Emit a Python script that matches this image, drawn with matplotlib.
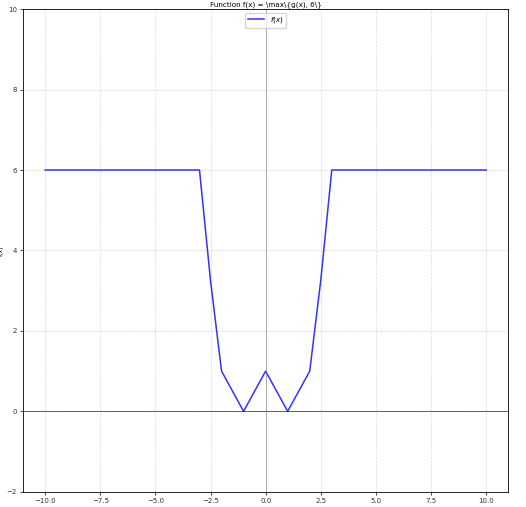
import matplotlib
matplotlib.use('Agg')
import matplotlib.pyplot as plt

# sample points
x_vals = [-10, -9, -8, -7, -6, -5, -4, -3, -2.5, -2, -1, 0, 1, 2, 2.5, 3, 4, 5, 6, 7, 8, 9, 10]
y_vals = [6, 6, 6, 6, 6, 6, 6, 6, 3.25, 1, 0, 1, 0, 1, 3.25, 6, 6, 6, 6, 6, 6, 6, 6]
y_ticks = [-2, 0, 2, 4, 6, 8, 10]
x_ticks = [-10.0, -7.5, -5.0, -2.5, 0.0, 2.5, 5.0, 7.5, 10.0]

fig = plt.figure(figsize=(5.26, 5.07), dpi=100)
ax = fig.add_axes([0.044, 0.03, 0.922, 0.952])

ax.plot(x_vals, y_vals, color='blue', lw=1.1, alpha=0.8, label='$f(x)$')
ax.axhline(0, color='black', lw=0.7, alpha=0.6)
ax.axvline(0, color='gray', lw=0.7, alpha=0.6)

ax.set_ylim(-2, 10)
ax.set_yticks(y_ticks)
ax.set_xticks(x_ticks)
ax.grid(True, ls='--', lw=0.5, alpha=0.5)
ax.tick_params(labelsize=5, length=2.5, width=0.5, pad=2, labelcolor='#333333')
for s in ax.spines.values():
    s.set_linewidth(0.6)

ax.set_title(r'Function f(x) = \max\{g(x), 6\}', fontsize=5.2, pad=2)
ax.set_ylabel('f(x)', fontsize=4.5)
ax.yaxis.set_label_coords(-0.039, 0.5)
ax.legend(loc='upper center', fontsize=5, handlelength=2.3)

fig.savefig('out.png', dpi=100)
